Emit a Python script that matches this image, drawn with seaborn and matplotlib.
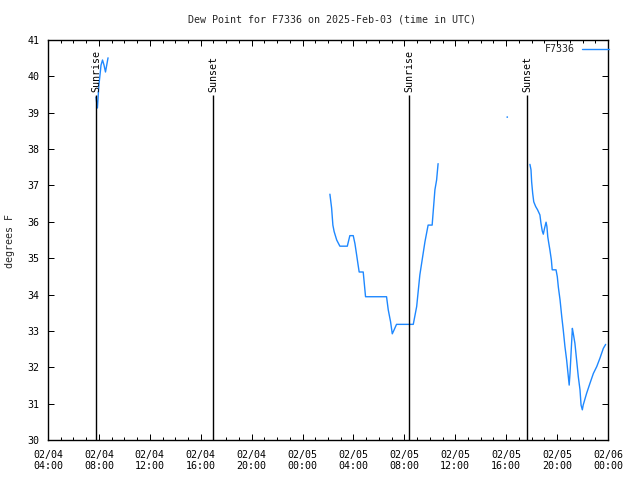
import matplotlib
matplotlib.use("Agg")
import matplotlib.pyplot as plt
import matplotlib.dates as mdates
import seaborn as sns
import pandas as pd
import numpy as np

# ---- data ----
seg1_times = ["2025-02-04 07:46", "2025-02-04 07:53", "2025-02-04 08:00", "2025-02-04 08:10",
              "2025-02-04 08:17", "2025-02-04 08:24", "2025-02-04 08:31", "2025-02-04 08:43"]
seg1_vals = [39.43, 39.13, 39.76, 40.31, 40.45, 40.31, 40.12, 40.51]

seg2_times = ["2025-02-05 02:09", "2025-02-05 02:17", "2025-02-05 02:23", "2025-02-05 02:29",
              "2025-02-05 02:41", "2025-02-05 02:56", "2025-02-05 03:31", "2025-02-05 03:43",
              "2025-02-05 03:59", "2025-02-05 04:07", "2025-02-05 04:15", "2025-02-05 04:22",
              "2025-02-05 04:27", "2025-02-05 04:46", "2025-02-05 04:57", "2025-02-05 06:36",
              "2025-02-05 06:44", "2025-02-05 06:55", "2025-02-05 07:03", "2025-02-05 07:11",
              "2025-02-05 07:23", "2025-02-05 08:42", "2025-02-05 08:58", "2025-02-05 09:13",
              "2025-02-05 09:37", "2025-02-05 09:52", "2025-02-05 10:11", "2025-02-05 10:24",
              "2025-02-05 10:32", "2025-02-05 10:39"]
seg2_vals = [36.76, 36.38, 35.91, 35.73,
             35.50, 35.33, 35.33, 35.62,
             35.62, 35.40, 35.09, 34.81,
             34.62, 34.62, 33.94, 33.94,
             33.58, 33.25, 32.92, 33.02,
             33.18, 33.18, 33.67, 34.54,
             35.45, 35.91, 35.91, 36.88,
             37.15, 37.60]

seg3_times = ["2025-02-05 16:05"]
seg3_vals = [38.88]

seg4_times = ["2025-02-05 17:52", "2025-02-05 17:57", "2025-02-05 18:00", "2025-02-05 18:05",
              "2025-02-05 18:10", "2025-02-05 18:19", "2025-02-05 18:28", "2025-02-05 18:39",
              "2025-02-05 18:44", "2025-02-05 18:50", "2025-02-05 18:55", "2025-02-05 19:00",
              "2025-02-05 19:08", "2025-02-05 19:12", "2025-02-05 19:16", "2025-02-05 19:20",
              "2025-02-05 19:26", "2025-02-05 19:33", "2025-02-05 19:37", "2025-02-05 19:55",
              "2025-02-05 20:01", "2025-02-05 20:06", "2025-02-05 20:14", "2025-02-05 20:22",
              "2025-02-05 20:29", "2025-02-05 20:37", "2025-02-05 20:45", "2025-02-05 20:53",
              "2025-02-05 20:57", "2025-02-05 21:01", "2025-02-05 21:05", "2025-02-05 21:12",
              "2025-02-05 21:16", "2025-02-05 21:24", "2025-02-05 21:32", "2025-02-05 21:40",
              "2025-02-05 21:48", "2025-02-05 21:53", "2025-02-05 21:59", "2025-02-05 22:03",
              "2025-02-05 22:19", "2025-02-05 22:35", "2025-02-05 22:51", "2025-02-05 23:07",
              "2025-02-05 23:22", "2025-02-05 23:38", "2025-02-05 23:49"]
seg4_vals = [37.58, 37.43, 37.10, 36.78,
             36.55, 36.42, 36.33, 36.19,
             35.96, 35.75, 35.66, 35.80,
             35.99, 35.87, 35.59, 35.44,
             35.23, 34.95, 34.68, 34.68,
             34.49, 34.20, 33.85, 33.39,
             33.03, 32.57, 32.20, 31.74,
             31.51, 31.84, 32.29, 33.07,
             32.94, 32.66, 32.20, 31.74,
             31.38, 30.96, 30.83, 30.96,
             31.28, 31.56, 31.83, 32.02,
             32.25, 32.52, 32.63]

sun_times = ["2025-02-04 07:46", "2025-02-04 16:58", "2025-02-05 08:22", "2025-02-05 17:38"]
sun_labels = ["Sunrise", "Sunset", "Sunrise", "Sunset"]
sun_line_top = 39.5
sun_label_y = 39.58

station = "F7336"
title = "Dew Point for F7336 on 2025-Feb-03 (time in UTC)"
ylabel = "degrees F"
x_start, x_end = "2025-02-04 04:00", "2025-02-06 00:00"
y_min, y_max = 30, 41

# ---- build frame ----
frames = []
for i, (t, v) in enumerate([(seg1_times, seg1_vals), (seg2_times, seg2_vals),
                            (seg4_times, seg4_vals)]):
    frames.append(pd.DataFrame({"time": pd.to_datetime(t), "dew": v, "seg": i}))
df = pd.concat(frames, ignore_index=True)
df_dot = pd.DataFrame({"time": pd.to_datetime(seg3_times), "dew": seg3_vals})

sns.set_style("ticks")
fs = 7.2
plt.rcParams["font.family"] = ["DejaVu Sans Mono"]
plt.rcParams["font.size"] = fs

color = "#1E88FF"
px = 0.72

fig = plt.figure(figsize=(6.4, 4.8), dpi=100)
ax = fig.add_axes([48 / 640, 40 / 480, 560 / 640, 400 / 480])

sns.lineplot(data=df, x="time", y="dew", units="seg", estimator=None,
             color=color, linewidth=1.0, ax=ax, legend=False)
sns.scatterplot(data=df_dot, x="time", y="dew", color=color, s=1.5,
                edgecolor="none", ax=ax, legend=False)

for t, lab in zip(pd.to_datetime(sun_times), sun_labels):
    ax.vlines(t, y_min, sun_line_top, color="black", linewidth=1.0)
    ax.text(t, sun_label_y, lab, rotation=90, ha="center", va="bottom",
            fontsize=fs, color="black")

ax.set_xlim(pd.to_datetime(x_start), pd.to_datetime(x_end))
ax.set_ylim(y_min, y_max)
ax.xaxis.set_major_locator(mdates.HourLocator(byhour=range(0, 24, 4)))
ax.xaxis.set_minor_locator(mdates.HourLocator())
ax.xaxis.set_major_formatter(mdates.DateFormatter("%m/%d\n%H:%M"))
ax.yaxis.set_major_locator(matplotlib.ticker.MultipleLocator(1))

ax.tick_params(axis="both", which="both", direction="in", top=True, right=True,
               colors="black", labelcolor="black", width=1.0 * px, labelsize=fs)
ax.tick_params(axis="both", which="major", length=6 * px, pad=6)
ax.tick_params(axis="both", which="minor", length=3 * px)
ax.tick_params(axis="x", which="major", pad=7)
for s in ax.spines.values():
    s.set_visible(True)
    s.set_color("black")
    s.set_linewidth(1.0)

ax.set_xlabel("")
ax.set_ylabel("")
fig.text(10 / 640, 1 - 241 / 480, ylabel, rotation=90, ha="center", va="center", fontsize=fs)
fig.text(332 / 640, 1 - 19 / 480, title, ha="center", va="center", fontsize=fs)

handle = matplotlib.lines.Line2D([], [], color=color, linewidth=1.0)
ax.legend([handle], [station], loc="upper right", frameon=False, markerfirst=False,
          bbox_to_anchor=(609 / 640, 1 - 44 / 480), bbox_transform=fig.transFigure,
          handlelength=2.7, borderaxespad=0.0, borderpad=0.0, handletextpad=0.7,
          fontsize=fs)

fig.savefig("out.png", dpi=100)
